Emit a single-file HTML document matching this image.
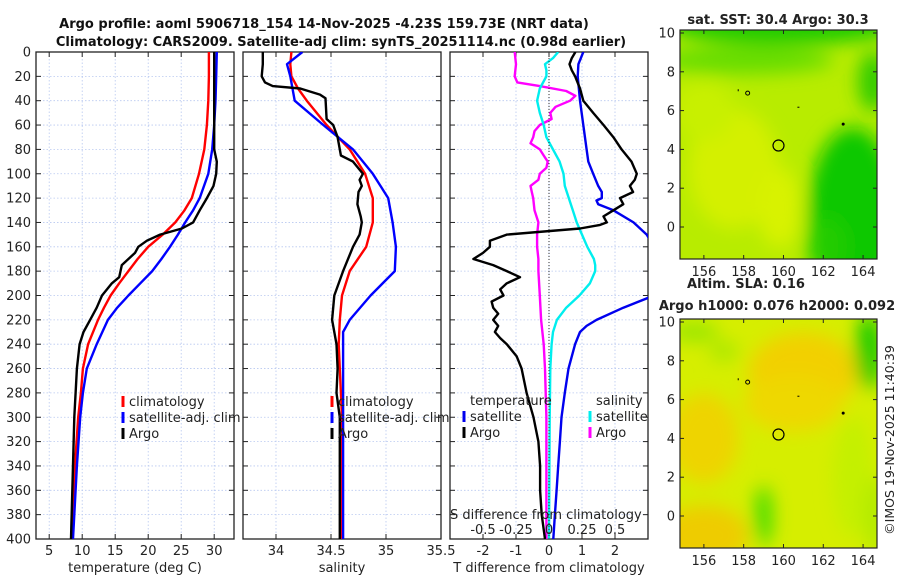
<!DOCTYPE html>
<html><head><meta charset="utf-8"><style>
html,body{margin:0;padding:0;background:#fff;}
svg{display:block;font-family:"DejaVu Sans","Liberation Sans",sans-serif;}
</style></head><body>
<svg id="chart" width="900" height="580" viewBox="0 0 900 580">
<defs>
<clipPath id="c1"><rect x="36" y="52" width="198" height="487"/></clipPath>
<clipPath id="c2"><rect x="243" y="52" width="198" height="487"/></clipPath>
<clipPath id="c3"><rect x="450" y="52" width="198" height="487"/></clipPath>
<clipPath id="cm1"><rect x="680" y="30" width="197" height="229"/></clipPath>
<clipPath id="cm2"><rect x="680" y="319" width="197" height="229"/></clipPath>
<filter id="bl" x="-50%" y="-50%" width="200%" height="200%"><feGaussianBlur stdDeviation="9"/></filter>
</defs>
<g font-weight="bold" font-size="13" text-anchor="middle" fill="#111">
<text x="324" y="28">Argo profile: aoml 5906718_154 14-Nov-2025 -4.23S 159.73E (NRT data)</text>
<text x="341" y="46">Climatology: CARS2009. Satellite-adj clim: synTS_20251114.nc (0.98d earlier)</text>
</g>
<g id="maps"></g>
<g id="panels"></g>
<text transform="translate(894,440) rotate(-90)" text-anchor="middle" font-size="12.5" fill="#222">©IMOS 19-Nov-2025 11:40:39</text>
</svg>
<script>
// ---- data ----
const depthTempClim=[0,20,40,60,80,100,120,130,140,150,160,170,180,190,200,210,220,240,260,280,300,340,400];
const tempClim=[29.2,29.2,29.1,28.9,28.5,27.7,26.6,25.5,24.1,22.2,20.0,18.4,17.0,15.6,14.3,13.3,12.4,10.9,10.1,9.8,9.4,8.9,8.5];
const tempSat=[30.4,30.3,30.2,30.0,29.7,29.1,27.8,26.8,25.6,24.5,23.3,22.0,20.6,18.8,17.0,15.3,13.9,12.2,10.7,10.1,9.7,9.2,8.6];
const depthTempArgo=[0,10,20,40,60,80,90,100,110,120,130,140,145,150,155,160,165,170,175,185,190,200,210,220,230,240,260,300,400];
const tempArgo=[30.0,30.0,30.0,30.0,30.0,30.0,30.4,30.3,29.9,28.9,27.8,26.8,25.1,21.8,19.8,18.5,18.0,17.0,16.0,15.6,14.5,13.0,12.2,11.2,10.2,9.6,9.2,8.8,8.3];
const depthSalClim=[0,10,20,30,40,60,80,100,120,140,160,180,200,220,240,260,300,400];
const salClim=[34.14,34.13,34.14,34.2,34.28,34.46,34.67,34.81,34.88,34.88,34.82,34.67,34.6,34.58,34.57,34.58,34.6,34.6];
const depthSalSat=[0,10,20,40,60,80,100,120,140,160,180,200,220,230,240,300,400];
const salSat=[34.24,34.1,34.13,34.17,34.43,34.7,34.88,35.02,35.06,35.09,35.08,34.86,34.67,34.61,34.61,34.61,34.61];
const depthSalArgo=[0,10,20,25,28,30,35,38,55,60,70,85,90,100,105,110,115,125,135,140,150,160,180,200,220,240,260,280,300,400];
const salArgo=[33.88,33.88,33.87,33.9,33.97,34.22,34.4,34.45,34.46,34.52,34.56,34.59,34.7,34.79,34.76,34.78,34.75,34.74,34.77,34.78,34.76,34.7,34.61,34.53,34.51,34.55,34.56,34.55,34.58,34.58];
const depthTdiffArgo=[0,5,10,15,20,30,40,50,60,70,80,90,100,105,110,115,120,125,130,135,140,142,145,150,155,160,165,170,175,180,185,190,195,200,205,210,215,220,225,230,235,240,250,260,280,300,320,340,360,380,400];
const tdiffArgo=[0.8,0.69,0.62,0.69,0.79,0.94,1.04,1.34,1.65,1.95,2.2,2.5,2.66,2.6,2.45,2.55,2.15,2.25,1.95,1.65,1.75,1.55,0.94,-1.28,-1.79,-1.79,-2.0,-2.29,-1.69,-1.28,-0.88,-1.28,-1.48,-1.38,-1.74,-1.69,-1.54,-1.69,-1.54,-1.64,-1.48,-1.28,-0.98,-0.83,-0.68,-0.47,-0.32,-0.27,-0.27,-0.22,-0.12];
const depthTdiffSat=[0,10,20,40,60,80,90,100,110,115,120,122,125,130,140,150,165,180,195,202,210,220,225,230,240,260,280,300,320,340,360,380,400];
const tdiffSat=[1.04,0.89,0.87,0.94,1.04,1.14,1.19,1.34,1.49,1.6,1.6,1.44,1.49,1.95,2.56,2.96,3.3,3.6,3.3,3.0,2.25,1.44,1.14,0.94,0.79,0.59,0.48,0.38,0.33,0.28,0.23,0.18,0.13];
const depthSdiffSat=[0,5,10,15,20,30,40,50,60,70,80,90,100,110,120,130,140,150,160,170,175,180,190,200,210,220,230,240,260,300,400];
const sdiffSat=[0.07,0.03,-0.03,-0.02,-0.02,-0.07,-0.09,-0.07,-0.04,-0.02,0.03,0.08,0.11,0.12,0.15,0.18,0.21,0.25,0.29,0.34,0.35,0.35,0.31,0.23,0.13,0.06,0.03,0.02,0.01,0.005,0.0];
const depthSdiffArgo=[0,10,20,25,28,32,36,40,45,50,55,60,65,70,75,80,85,90,95,100,105,110,115,120,130,140,150,160,170,180,200,220,240,260,280,300,340,400];
const sdiffArgo=[-0.26,-0.25,-0.26,-0.24,-0.07,0.13,0.2,0.16,0.05,0.01,0.02,-0.07,-0.11,-0.12,-0.14,-0.07,-0.04,-0.01,-0.02,-0.07,-0.08,-0.14,-0.13,-0.12,-0.11,-0.08,-0.09,-0.09,-0.08,-0.08,-0.07,-0.06,-0.04,-0.03,-0.025,-0.02,-0.02,-0.02];
const depthTicks=[0,20,40,60,80,100,120,140,160,180,200,220,240,260,280,300,320,340,360,380,400];
const tempTicks=[5,10,15,20,25,30];
const salTicks=[34,34.5,35,35.5];
const tdiffTicks=[-2,-1,0,1,2];
const sdiffTickLabels=["-0.5","-0.25","0","0.25","0.5"];
const sdiffTicks=[-0.5,-0.25,0,0.25,0.5];
const latTicks=[10,8,6,4,2,0];
const lonTicks=[156,158,160,162,164];

const NS="http://www.w3.org/2000/svg";
function mk(tag,attrs,parent){const e=document.createElementNS(NS,tag);for(const k in attrs)e.setAttribute(k,attrs[k]);parent.appendChild(e);return e;}
const panelsG=document.getElementById('panels');
const Y0=52,Y1=539;
const yScale=d=>Y0+d*(Y1-Y0)/400;
function xLin(x0,x1,v0,v1){return v=>x0+(v-v0)*(x1-x0)/(v1-v0);}

function drawPanel(name,x0,x1,xs,gridTicks,clip){
  const g=mk('g',{},panelsG);
  
  
  gridTicks.forEach(t=>{const x=xs(t);if(x>x0+0.5&&x<x1-0.5){const l=mk('line',{x1:x,x2:x,y1:Y0,y2:Y1,stroke:'#b8c8f0','stroke-width':0.8,'stroke-dasharray':'1.5,2'},g);}});
  depthTicks.forEach(d=>{const y=yScale(d);if(d>0&&d<400){const l=mk('line',{x1:x0,x2:x1,y1:y,y2:y,stroke:'#b8c8f0','stroke-width':0.8,'stroke-dasharray':'1.5,2'},g);}
    mk('line',{x1:x0,x2:x0+5,y1:y,y2:y,stroke:'#222','stroke-width':1},g);
    mk('line',{x1:x1-5,x2:x1,y1:y,y2:y,stroke:'#222','stroke-width':1},g);});
  gridTicks.forEach(t=>{const x=xs(t);if(x>=x0&&x<=x1){mk('line',{x1:x,x2:x,y1:Y1,y2:Y1-5,stroke:'#222'},g);mk('line',{x1:x,x2:x,y1:Y0,y2:Y0+5,stroke:'#222'},g);}});
  const r=mk('rect',{x:x0,y:Y0,width:x1-x0,height:Y1-Y0,fill:'none',stroke:'#222','stroke-width':1.3},g);
  
  const lines=mk('g',{'clip-path':'url(#'+clip+')'},g);
  return {g,lines};
}
function line(parent,xs,depths,vals,color,name){
  const pts=vals.map((v,i)=>xs(v).toFixed(1)+','+yScale(depths[i]).toFixed(1)).join(' ');
  const p=mk('polyline',{points:pts,fill:'none',stroke:color,'stroke-width':2.4,'stroke-linejoin':'round'},parent);
  
  
}
function text(parent,x,y,s,attrs,name){const t=mk('text',Object.assign({x:x,y:y,'font-size':13,fill:'#222'},attrs||{}),parent);t.textContent=s;return t;}
function legend(parent,x,y,color,label){
  const b=mk('rect',{x:x-1.5,y:y-10,width:3,height:11,fill:color},parent);
  
  text(parent,x+6,y,label,{},'legend-entry');
}

const xT=xLin(36,234,3,33);
const p1=drawPanel('temperature-panel',36,234,xT,tempTicks,'c1');
line(p1.lines,xT,depthTempClim,tempClim,'#ff0000','climatology-temp-line');
line(p1.lines,xT,depthTempClim,tempSat,'#0000ff','satellite-temp-line');
line(p1.lines,xT,depthTempArgo,tempArgo,'#000000','argo-temp-line');
depthTicks.forEach(d=>text(p1.g,31,yScale(d)+4.5,String(d),{'text-anchor':'end'},'y-tick-label'));
tempTicks.forEach(t=>text(p1.g,xT(t),555,String(t),{'text-anchor':'middle'},'x-tick-label'));
text(p1.g,135,572,'temperature (deg C)',{'text-anchor':'middle'},'x-axis-title');
legend(p1.g,123,406,'#ff0000','climatology');legend(p1.g,123,422,'#0000ff','satellite-adj. clim');legend(p1.g,123,438,'#000','Argo');

const xS=xLin(243,441,33.7,35.5);
const p2=drawPanel('salinity-panel',243,441,xS,salTicks,'c2');
line(p2.lines,xS,depthSalClim,salClim,'#ff0000','climatology-sal-line');
line(p2.lines,xS,depthSalSat,salSat,'#0000ff','satellite-sal-line');
line(p2.lines,xS,depthSalArgo,salArgo,'#000000','argo-sal-line');
salTicks.forEach(t=>text(p2.g,xS(t),555,String(t),{'text-anchor':'middle'},'x-tick-label'));
text(p2.g,342,572,'salinity',{'text-anchor':'middle'},'x-axis-title');
legend(p2.g,332,406,'#ff0000','climatology');legend(p2.g,332,422,'#0000ff','satellite-adj. clim');legend(p2.g,332,438,'#000','Argo');

const xD=xLin(450,648,-3,3);
const xSD=xLin(450,648,-0.75,0.75);
const p3=drawPanel('difference-panel',450,648,xD,tdiffTicks,'c3');
const zl=mk('line',{x1:xD(0),x2:xD(0),y1:Y0,y2:Y1,stroke:'#333','stroke-width':1,'stroke-dasharray':'1,2'},p3.g);

line(p3.lines,xSD,depthSdiffArgo,sdiffArgo,'#ff00ff','argo-sal-diff-line');
line(p3.lines,xSD,depthSdiffSat,sdiffSat,'#00eeee','satellite-sal-diff-line');
line(p3.lines,xD,depthTdiffSat,tdiffSat,'#0000ee','satellite-temp-diff-line');
line(p3.lines,xD,depthTdiffArgo,tdiffArgo,'#000000','argo-temp-diff-line');
tdiffTicks.forEach(t=>text(p3.g,xD(t),555,String(t),{'text-anchor':'middle'},'x-tick-label'));
text(p3.g,549,572,'T difference from climatology',{'text-anchor':'middle'},'x-axis-title');
text(p3.g,450,519,'S difference from climatology',{},'s-axis-title');
sdiffTicks.forEach((t,i)=>text(p3.g,xSD(t),534,sdiffTickLabels[i],{'text-anchor':'middle'},'s-tick-label'));
text(p3.g,470,405,'temperature',{},'legend-header-temperature');
text(p3.g,596,405,'salinity',{},'legend-header-salinity');
legend(p3.g,464,421,'#0000ee','satellite');legend(p3.g,464,437,'#000','Argo');
legend(p3.g,590,421,'#00eeee','satellite');legend(p3.g,590,437,'#ff00ff','Argo');

const mapsG=document.getElementById('maps');
const lonX=lon=>680+(lon-154.8)*19.9;
function drawMap(name,top,clip,bg,blobs,title1,t1x,title2,t2x){
  const g=mk('g',{},mapsG);
  
  const latY=lat=>top+3+(10-lat)*19.4;
  const field=mk('g',{'clip-path':'url(#'+clip+')'},g);
  mk('rect',{x:680,y:top,width:197,height:229,fill:bg},field);
  const bg2=mk('g',{filter:'url(#bl)'},field);
  blobs.forEach(b=>mk('ellipse',{cx:lonX(b[0]),cy:latY(b[1]),rx:b[2],ry:b[3],fill:b[4]},bg2));
  const ci=mk('circle',{cx:lonX(159.75),cy:latY(4.2),r:5.5,fill:'none',stroke:'#000','stroke-width':1.2},g);
  
  mk('circle',{cx:lonX(158.2),cy:latY(6.9),r:2,fill:'none',stroke:'#000','stroke-width':1},g);
  mk('circle',{cx:lonX(163),cy:latY(5.3),r:1.5,fill:'#000'},g);
  mk('rect',{x:lonX(160.7),y:latY(6.2),width:2,height:1,fill:'#000'},g);
  mk('rect',{x:lonX(157.7),y:latY(7.1),width:1,height:2,fill:'#000'},g);
  mk('rect',{x:680,y:top,width:197,height:229,fill:'none',stroke:'#222','stroke-width':1.2},g);
  latTicks.forEach(l=>{const y=latY(l);mk('line',{x1:680,x2:684,y1:y,y2:y,stroke:'#222'},g);mk('line',{x1:873,x2:877,y1:y,y2:y,stroke:'#222'},g);text(g,675,y+4.5,String(l),{'text-anchor':'end'},'lat-tick-label');});
  lonTicks.forEach(l=>{const x=lonX(l);mk('line',{x1:x,x2:x,y1:top+229,y2:top+225,stroke:'#222'},g);mk('line',{x1:x,x2:x,y1:top,y2:top+4,stroke:'#222'},g);text(g,x,top+246,String(l),{'text-anchor':'middle'},'lon-tick-label');});
  text(g,t1x,title2?top-31:top-6,title1,{'text-anchor':'middle','font-weight':'bold'},'map-title');
  if(title2)text(g,t2x,top-9,title2,{'text-anchor':'middle','font-weight':'bold'},'map-subtitle');
}
drawMap('sst-map',30,'cm1','#b8ec00',[
 [160,10.5,120,22,'#22cc00'],[158,8.6,90,14,'#66dd00'],
 [163.5,0.5,45,90,'#11c800'],[162.2,-1,20,30,'#22cc00'],[164.5,7.5,15,30,'#33cc00'],
 [157.5,3,45,60,'#d4f000'],[159.8,1,22,40,'#d8f200'],[156,6,30,30,'#c8f000']
],'sat. SST: 30.4 Argo: 30.3',778);
drawMap('sla-map',319,'cm2','#d6ee00',[
 [161,7.4,55,40,'#f2d000'],[160.5,5.8,50,28,'#eed800'],[156,4,35,45,'#eed400'],[156,-1,45,30,'#eecc00'],
 [164.3,8.5,14,38,'#22cc00'],[159,0,9,30,'#44dd00'],[155.5,9.5,25,10,'#99e600'],[157,8.5,15,10,'#aae800'],
 [163.5,2,20,60,'#c4f000'],[164.6,0,10,40,'#b0ea00']
],'Altim. SLA: 0.16',746,'Argo h1000: 0.076 h2000: 0.092',777);
</script>
</body></html>
